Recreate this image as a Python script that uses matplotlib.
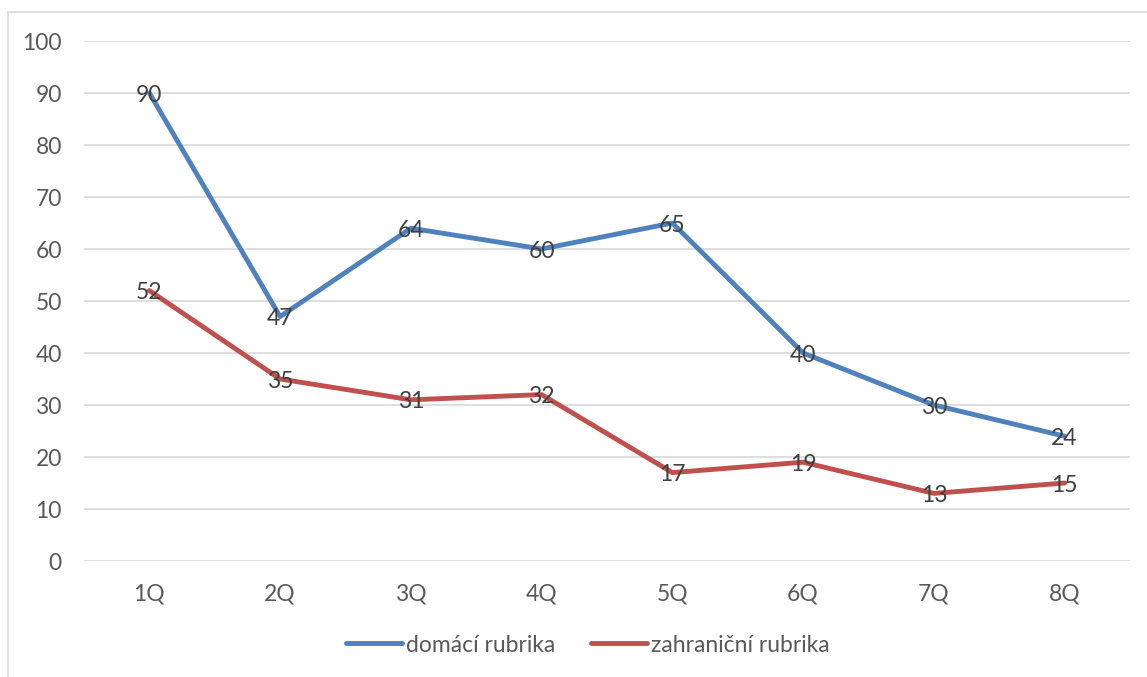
from matplotlib import pyplot as plt
from matplotlib.patches import Rectangle
import numpy as np

# Data
kategorie = ["1Q", "2Q", "3Q", "4Q", "5Q", "6Q", "7Q", "8Q"]
domaci = [90, 47, 64, 60, 65, 40, 30, 24]
zahranicni = [52, 35, 31, 32, 17, 19, 13, 15]

plt.rcParams['font.family'] = ['Lato', 'DejaVu Sans']
fs = 16.5

fig = plt.figure(figsize=(11.47, 6.77), dpi=100)
fig.patches.append(Rectangle((8 / 1147, -0.1), 1.2, 1 - 12 / 677 + 0.1,
                             transform=fig.transFigure, fill=False,
                             edgecolor='#D9D9D9', linewidth=1.2))

ax = fig.add_axes([84 / 1147, 1 - 561 / 677, (1130 - 84) / 1147, (561 - 41) / 677])
x = np.arange(len(kategorie))

ax.plot(x, domaci, color='#4F81BD', linewidth=3.5, solid_capstyle='round',
        label='domácí rubrika', zorder=3)
ax.plot(x, zahranicni, color='#C0504D', linewidth=3.5, solid_capstyle='round',
        label='zahraniční rubrika', zorder=3)

# data labels centred on the points
for xi, v in zip(x, domaci):
    ax.text(xi, v - 0.4, str(v), ha='center', va='center', fontsize=fs, color='#404040', zorder=4)
for xi, v in zip(x, zahranicni):
    ax.text(xi, v - 0.4, str(v), ha='center', va='center', fontsize=fs, color='#404040', zorder=4)

ax.set_xlim(-0.5, len(kategorie) - 0.5)
ax.set_ylim(0, 100)
ax.set_yticks(np.arange(0, 101, 10))
ax.set_xticks(x)
ax.set_xticklabels(kategorie)
ax.grid(True, axis='y', color='#D9D9D9', linewidth=1.2)
ax.set_axisbelow(True)
for s in ax.spines.values():
    s.set_visible(False)
ax.tick_params(axis='both', length=0, labelsize=fs, labelcolor='#595959')
ax.tick_params(axis='y', pad=16)
ax.tick_params(axis='x', pad=16)

fig.legend(loc='center', bbox_to_anchor=(588 / 1147, 1 - 645 / 677), ncol=2, frameon=False,
           fontsize=fs, labelcolor='#595959', handlelength=2.45, handletextpad=0.17,
           columnspacing=1.55)

fig.savefig('out.png', dpi=100)
